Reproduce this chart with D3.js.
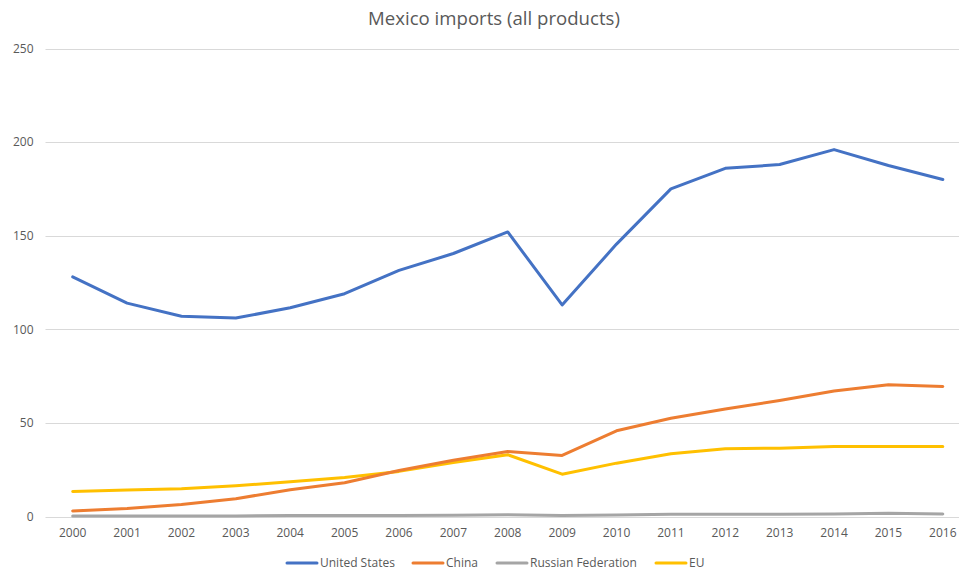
<!DOCTYPE html>
<html>
<head>
<meta charset="utf-8">
<script src="https://cdn.jsdelivr.net/npm/d3@7"></script>
<style>
  body { margin: 0; background: #fff; }
  svg { display: block; font-family: "Open Sans", sans-serif; }
</style>
</head>
<body>
<div id="chart"></div>
<script>
// data
const years = ['2000','2001','2002','2003','2004','2005','2006','2007','2008','2009','2010','2011','2012','2013','2014','2015','2016'];
const seriesNames = ['United States', 'China', 'Russian Federation', 'EU'];
const unitedStates = [128, 114, 107, 106, 111.5, 119, 131.5, 140.5, 152, 113, 145.5, 175, 186, 188, 196, 187.5, 180];
const china = [3, 4.3, 6.4, 9.5, 14.3, 18, 24.6, 30, 34.7, 32.6, 45.8, 52.5, 57.4, 62, 67, 70.4, 69.5];
const russia = [0.3, 0.3, 0.3, 0.3, 0.5, 0.6, 0.6, 0.7, 1.0, 0.5, 0.8, 1.2, 1.2, 1.2, 1.3, 1.8, 1.3];
const eu = [13.4, 14.2, 14.8, 16.4, 18.5, 20.8, 24.1, 28.8, 33, 22.6, 28.5, 33.5, 36.2, 36.5, 37.4, 37.4, 37.4];
const yTicks = [0, 50, 100, 150, 200, 250];
const colors = ['#4472C4', '#ED7D31', '#A5A5A5', '#FFC000'];

const width = 959, height = 574;
const margin = {top: 48.5, right: -11, bottom: 57.5, left: 45.5};

const svg = d3.select('#chart').append('svg')
    .attr('width', width)
    .attr('height', height);

const scaleX = d3.scaleBand(years, [margin.left, width - margin.right]);
const scaleY = d3.scaleLinear([0, 250], [height - margin.bottom, margin.top]);

// title
svg.append('text')
    .attr('x', 494).attr('y', 25)
    .attr('text-anchor', 'middle')
    .attr('font-size', 18.6)
    .attr('fill', '#595959')
    .text('Mexico imports (all products)');

// gridlines
svg.append('g')
    .selectAll('line')
    .data(yTicks)
    .join('line')
    .attr('x1', margin.left).attr('x2', width)
    .attr('y1', d => Math.round(scaleY(d)) + 0.5)
    .attr('y2', d => Math.round(scaleY(d)) + 0.5)
    .attr('stroke', '#d9d9d9')
    .attr('stroke-width', 1);

// y axis labels
const axisY = svg.append('g')
    .attr('transform', `translate(${margin.left},0)`)
    .call(d3.axisLeft(scaleY).tickValues(yTicks).tickSize(0).tickPadding(12));
axisY.select('.domain').remove();
axisY.selectAll('text').attr('fill', '#595959').attr('font-size', 12).attr('font-family', '"Open Sans", sans-serif');

// x axis labels
const axisX = svg.append('g')
    .attr('transform', `translate(0,${height - margin.bottom})`)
    .call(d3.axisBottom(scaleX).tickSize(0).tickPadding(12));
axisX.select('.domain').remove();
axisX.selectAll('text').attr('fill', '#595959').attr('font-size', 12).attr('font-family', '"Open Sans", sans-serif');

// lines
const allSeries = [unitedStates, china, russia, eu];
const lineGen = d3.line()
    .x((d, i) => scaleX(years[i]) + scaleX.bandwidth() / 2)
    .y(d => scaleY(d));

svg.append('g')
    .selectAll('path')
    .data(allSeries.slice().reverse().map((s, i) => ({values: s, color: colors[allSeries.length - 1 - i]})))
    .join('path')
    .attr('d', d => lineGen(d.values))
    .attr('fill', 'none')
    .attr('stroke', d => d.color)
    .attr('stroke-width', 3)
    .attr('stroke-linejoin', 'round')
    .attr('stroke-linecap', 'round');

// legend
const legendX = [287, 413, 497, 656];
const legend = svg.append('g')
    .selectAll('g')
    .data(seriesNames)
    .join('g')
    .attr('transform', (d, i) => `translate(${legendX[i]},563)`);
legend.append('line')
    .attr('x1', 0).attr('x2', 30)
    .attr('stroke', (d, i) => colors[i])
    .attr('stroke-width', 3)
    .attr('stroke-linecap', 'round');
legend.append('text')
    .attr('x', 33).attr('y', 4)
    .attr('font-size', 12)
    .attr('fill', '#595959')
    .text(d => d);
</script>
</body>
</html>
